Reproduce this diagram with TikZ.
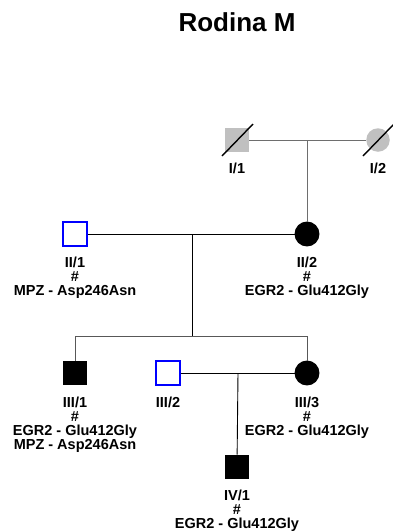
\documentclass[tikz,border=0pt]{standalone}
\usepackage{fontspec}
\setmainfont{Liberation Sans}
\usetikzlibrary{calc}
\usetikzlibrary{positioning}

\definecolor{pedgrey}{RGB}{192,192,192}
\definecolor{lineg}{RGB}{110,110,110}
\definecolor{carrier}{RGB}{0,0,255}

\tikzset{
  male/.style={rectangle, minimum size=23.5pt, inner sep=0, line width=1.4pt},
  female/.style={circle, minimum size=23.5pt, inner sep=0, line width=1.4pt},
  affected/.style={draw=black, fill=black},
  unaff/.style={draw=carrier, fill=white, line width=1.9pt},
  unknown/.style={fill=pedgrey},
  lbl/.style={align=center, inner sep=0, font=\bfseries\fontsize{14.5}{14}\selectfont},
  line/.style={line width=0.9pt},
}

\begin{document}
\begin{tikzpicture}[x=1pt, y=-1pt]
\useasboundingbox (0,0) rectangle (393,531);
\node[font=\bfseries\fontsize{26}{28}\selectfont] (title) at (237,22) {Rodina M};

% generation I
\node[male, unknown] (I1) at (237,140) {};
\node[female, unknown] (I2) at (378,140) {};
\foreach \p in {I1, I2}
 \draw[black, line width=1.4pt] ($(\p.center)+(-15,16)$) -- ($(\p.center)+(16,-16)$);
\node[lbl, below=10pt of I1] (I1l) {I/1};
\node[lbl, below=10pt of I2] (I2l) {I/2};

% generation II
\node[male, unaff] (II1) at (75,234) {};
\node[female, affected] (II2) at (307,234) {};
\node[lbl, below=10pt of II1] (II1l) {II/1\\\#\\MPZ - Asp246Asn};
\node[lbl, below=10pt of II2] (II2l) {II/2\\\#\\EGR2 - Glu412Gly};

% generation III
\node[male, affected] (III1) at (75,373) {};
\node[male, unaff] (III2) at (168,373) {};
\node[female, affected] (III3) at (307,373) {};
\node[lbl, below=11pt of III1] (III1l) {III/1\\\#\\EGR2 - Glu412Gly\\MPZ - Asp246Asn};
\node[lbl, below=11pt of III2] (III2l) {III/2};
\node[lbl, below=11pt of III3] (III3l) {III/3\\\#\\EGR2 - Glu412Gly};

% generation IV
\node[male, affected] (IV1) at (237,467) {};
\node[lbl, below=10pt of IV1] (IV1l) {IV/1\\\#\\EGR2 - Glu412Gly};

% lines
\coordinate (m1) at (307,140);
\coordinate (m2) at (192,234);
\coordinate (sib) at (192,336);
\coordinate (m3) at (238,373);
\draw[line, lineg] (I1) -- (I2);
\draw[line, lineg] (m1) -- (II2);
\draw[line] (II1) -- (II2);
\draw[line] (m2) -- (sib);
\draw[line, lineg!80!black] (sib) -| (III1);
\draw[line, lineg!80!black] (sib) -| (III3);
\draw[line] (III2) -- (III3);
\draw[line] (m3) -- (IV1);
\end{tikzpicture}
\end{document}
